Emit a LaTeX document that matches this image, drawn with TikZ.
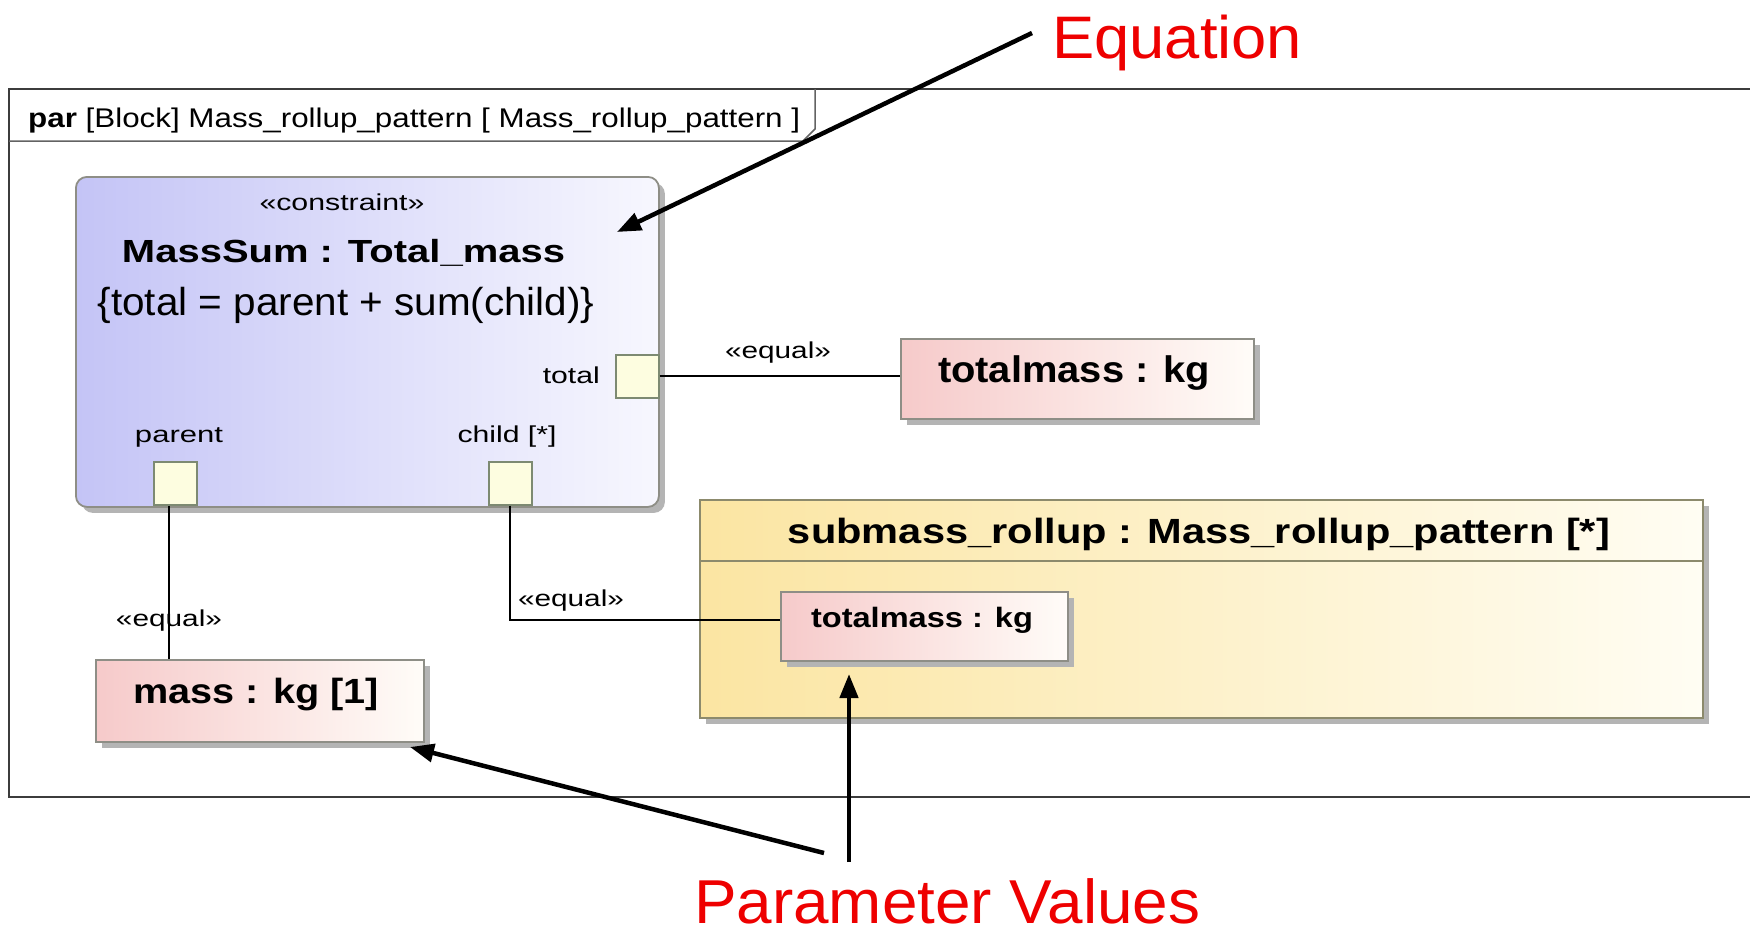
\documentclass[tikz,border=0pt]{standalone}
\usepackage{fontspec}
\setmainfont{Liberation Sans}
\usepackage{graphicx}
\usetikzlibrary{arrows.meta,shadows}

\definecolor{frameline}{HTML}{3C3C3C}
\definecolor{lavender}{HTML}{C4C4F6}
\definecolor{lavenderlight}{HTML}{F7F7FE}
\definecolor{pinkfill}{HTML}{F6CACA}
\definecolor{pinklight}{HTML}{FFFCF8}
\definecolor{yellowfill}{HTML}{FBE5A2}
\definecolor{yellowlight}{HTML}{FFFDF3}
\definecolor{portfill}{HTML}{FDFDE0}
\definecolor{portline}{HTML}{7D8A72}
\definecolor{boxline}{HTML}{8E8E86}
\definecolor{partline}{HTML}{8C8A6C}
\definecolor{annot}{HTML}{EE0000}
\definecolor{shadowgray}{HTML}{B4B4B4}

% stretch a text horizontally to a given width, keeping its height
\newcommand{\fitw}[2]{\resizebox{#1}{\height}{#2}}
\newcommand{\fs}[1]{\fontsize{#1}{#1}\selectfont}

\begin{document}
\begin{tikzpicture}[x=1pt,y=-1pt,
  shadowed/.style={drop shadow={shadow xshift=6pt,shadow yshift=-6pt,fill=shadowgray,opacity=1}},
  constraintbox/.style={shadowed,draw=boxline,line width=1.8pt,rounded corners=11pt,
    left color=lavender,right color=lavenderlight,anchor=north west,inner sep=0pt},
  valuebox/.style={shadowed,draw=boxline,line width=1.6pt,
    left color=pinkfill,right color=pinklight,anchor=north west,inner sep=0pt},
  partbox/.style={shadowed,draw=partline,line width=1.6pt,
    left color=yellowfill,right color=yellowlight,anchor=north west,inner sep=0pt},
  portbox/.style={draw=portline,fill=portfill,line width=1.5pt,anchor=north west,
    inner sep=0pt,minimum width=43pt,minimum height=43pt},
  lbl/.style={inner sep=0pt,anchor=base,text=black},
  conn/.style={draw=black,line width=1.8pt},
  annarrow/.style={draw=black,line width=4.5pt,-{Triangle[length=24pt,width=18pt]}},
  annlbl/.style={inner sep=0pt,anchor=base west,text=annot}
]
\useasboundingbox (0,0) rectangle (1750,937);
\fill[white] (0,0) rectangle (1750,937);

% diagram frame and its name tab
\draw[frameline,line width=2.5pt] (1752,89) -- (9,89) -- (9,797) -- (1752,797);
\draw[frameline!80,line width=1.5pt] (9,141) -- (803,141) -- (815,129) -- (815,89);
\node[inner sep=0pt,anchor=base west] (frametitle) at (28,127)
  {\fitw{772pt}{\fs{27}\textbf{par} [Block] Mass\_rollup\_pattern [ Mass\_rollup\_pattern ]}};

% constraint block
\node[constraintbox,minimum width=583pt,minimum height=330pt] (ms) at (75,176) {};
\node[lbl] (msstereo) at (342,210) {\fitw{165pt}{\fs{23}«constraint»}};
\node[lbl] (msname) at (343.5,262) {\fitw{443pt}{\fs{32}\bfseries MassSum : Total\_mass}};
\node[lbl] (mseq) at (346,315) {\fitw{497pt}{\fs{39}\{total = parent + sum(child)\}}};

% constraint parameters
\node[portbox] (ptotal) at (615,354) {};
\node[portbox] (pparent) at (153,461) {};
\node[portbox] (pchild) at (488,461) {};
\node[lbl,anchor=base east] (ltotal) at (600,383) {\fitw{57pt}{\fs{23}total}};
\node[lbl] (lparent) at (179,442) {\fitw{88pt}{\fs{23}parent}};
\node[lbl] (lchild) at (507,442) {\fitw{99pt}{\fs{23}child [*]}};

% value properties
\node[valuebox,minimum width=353pt,minimum height=80pt] (tmtop) at (900,338) {};
\node[lbl] (tmtoptext) at (1074,382) {\fitw{272pt}{\fs{37}\bfseries totalmass : kg}};

\node[valuebox,minimum width=328pt,minimum height=82pt] (mass) at (95,659) {};
\node[lbl] (masstext) at (256,703) {\fitw{246pt}{\fs{35}\bfseries mass : kg [1]}};

% nested part with its own value property
\node[partbox,minimum width=1003pt,minimum height=218pt] (sub) at (699,499) {};
\coordinate (sepy) at (0,561);
\draw[partline,line width=1.6pt] (sub.west |- sepy) -- (sub.east |- sepy);
\node[lbl] (subtitle) at (1199,543) {\fitw{822pt}{\fs{35}\bfseries submass\_rollup : Mass\_rollup\_pattern [*]}};
\node[valuebox,minimum width=287pt,minimum height=69pt] (tminner) at (780,591) {};
\node[lbl] (tminnertext) at (922,627) {\fitw{222pt}{\fs{28}\bfseries totalmass : kg}};

% binding connectors
\draw[conn] (ptotal.east) -- (ptotal.east -| tmtop.west);
\draw[conn] (pchild.south) |- ([yshift=6pt]tminner.west);
\draw[conn] ([xshift=-6pt]pparent.south) -- ([xshift=-6pt]pparent.south |- mass.north);
\node[lbl] (eq1) at (778,358) {\fitw{106pt}{\fs{23}«equal»}};
\node[lbl] (eq2) at (571,606) {\fitw{106pt}{\fs{23}«equal»}};
\node[lbl] (eq3) at (169,626) {\fitw{106pt}{\fs{23}«equal»}};

% annotations
\node[annlbl] (eqnote) at (1052,58) {\fitw{250pt}{\fs{60}Equation}};
\node[annlbl] (pvnote) at (694,923) {\fitw{506pt}{\fs{62}Parameter Values}};
\coordinate (eqtail) at (1032,33);
\coordinate (eqhead) at (617,232);
\coordinate (pvtailA) at (824,853);
\coordinate (pvheadA) at (410,747);
\coordinate (pvtailB) at (849,862);
\coordinate (pvheadB) at (849,674);
\draw[annarrow] (eqtail) -- (eqhead);
\draw[annarrow] (pvtailA) -- (pvheadA);
\draw[annarrow] (pvtailB) -- (pvheadB);
\end{tikzpicture}
\end{document}
